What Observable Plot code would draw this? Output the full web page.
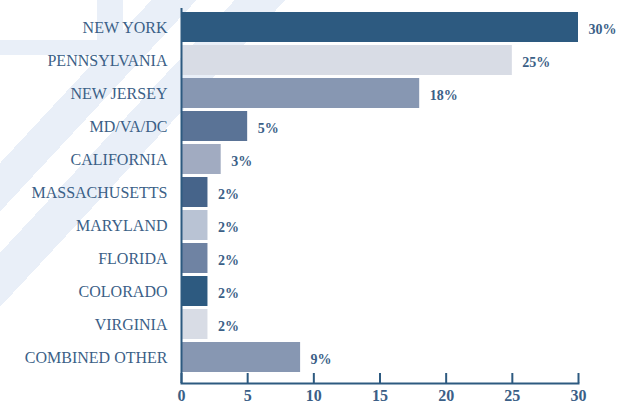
<!DOCTYPE html>
<html>
<head>
<meta charset="utf-8">
<script src="https://cdn.jsdelivr.net/npm/d3@7"></script>
<script src="https://cdn.jsdelivr.net/npm/@observablehq/plot@0.6"></script>
<style>
  html, body { margin: 0; padding: 0; background: #ffffff; }
  #chart {
    position: relative; width: 619px; height: 406px; overflow: hidden;
    background:
      linear-gradient(#e9eff8, #e9eff8) 97px 0 / 26px 55px no-repeat,
      linear-gradient(#e9eff8, #e9eff8) 0 40px / 133px 15px no-repeat,
      linear-gradient(132.9deg, transparent 111px, #e9eff8 111px, #e9eff8 144px, transparent 144px,
                      transparent 172px, #e9eff8 172px, #e9eff8 209px, transparent 209px),
      #ffffff;
  }
  #chart svg text { font-family: "Liberation Serif", "DejaVu Serif", serif; }
</style>
</head>
<body>
<div id="chart"></div>
<script>
const states = ["NEW YORK", "PENNSYLVANIA", "NEW JERSEY", "MD/VA/DC", "CALIFORNIA",
  "MASSACHUSETTS", "MARYLAND", "FLORIDA", "COLORADO", "VIRGINIA", "COMBINED OTHER"];
const shares = [30, 25, 18, 5, 3, 2, 2, 2, 2, 2, 9];
const barColors = ["#2d5a80", "#d8dce5", "#8797b2", "#5a7396", "#a1abc1",
  "#46648a", "#b9c3d4", "#6f83a3", "#2d5a80", "#d8dce5", "#8797b2"];
const xTicks = [0, 5, 10, 15, 20, 25, 30];

const data = states.map((name, i) => ({name, value: shares[i], color: barColors[i]}));

const labelColor = "#3b5f87";
const axisColor = "#2d5a80";
const serif = "Liberation Serif, DejaVu Serif, serif";

const chart = Plot.plot({
  width: 619,
  height: 406,
  marginLeft: 181,
  marginRight: 41,
  marginTop: 12,
  marginBottom: 23,
  style: {fontFamily: serif, background: "transparent", overflow: "visible"},
  x: {domain: [0, 30], label: null},
  y: {domain: states, paddingInner: 3 / 33, paddingOuter: 0, insetBottom: 11, label: null},
  marks: [
    Plot.barX(data, {x: "value", y: "name", fill: "color"}),
    Plot.ruleX([0], {stroke: axisColor, strokeWidth: 2, insetTop: -4}),
    Plot.frame({anchor: "bottom", stroke: axisColor, strokeWidth: 2}),
    Plot.ruleX(xTicks, {stroke: axisColor, strokeWidth: 2, insetTop: 361}),
    Plot.axisY({tickSize: 0, tickPadding: 14, fontSize: 16, fontFamily: serif, fill: labelColor, label: null}),
    Plot.axisX({ticks: xTicks, tickSize: 0, tickPadding: 6, fontSize: 16, fontWeight: "bold", fontFamily: serif, fill: labelColor, label: null}),
    Plot.text(data, {x: "value", y: "name", text: d => d.value + "%", dx: 10, dy: 2, fontFamily: serif,
      textAnchor: "start", fontSize: 14, fontWeight: "bold", fill: labelColor})
  ]
});
document.getElementById("chart").appendChild(chart);
</script>
</body>
</html>
